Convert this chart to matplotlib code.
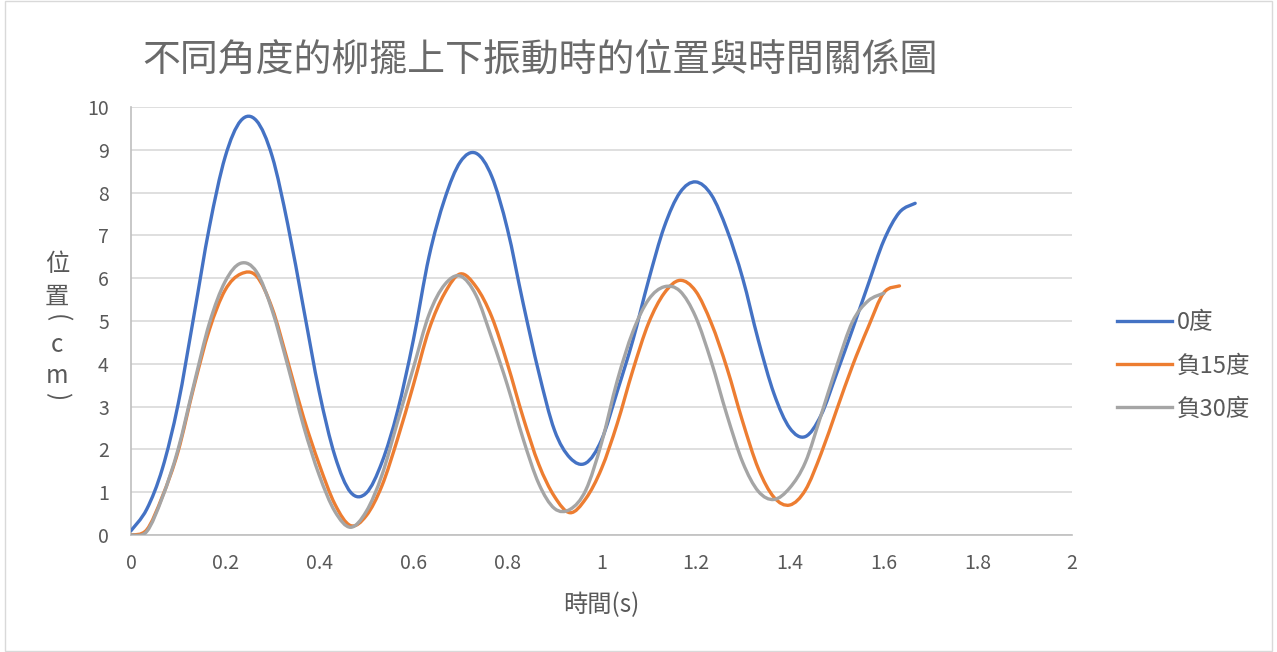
import numpy as np
import matplotlib
matplotlib.use("Agg")
import matplotlib.pyplot as plt
from matplotlib.path import Path
from matplotlib.patches import PathPatch, Rectangle
from matplotlib.lines import Line2D
from matplotlib.ticker import FuncFormatter, MultipleLocator

plt.rcParams['font.family'] = ['Noto Sans CJK TC', 'DejaVu Sans']

frame_rate = 30
series_names = ['0度', '負15度', '負30度']
pos_0 = [0.10, 0.60, 1.55, 3.05, 5.10, 7.20, 8.83, 9.68, 9.68, 8.85,
         7.25, 5.30, 3.35, 1.85, 1.00, 0.98, 1.70, 2.90, 4.55, 6.50,
         7.85, 8.72, 8.92, 8.38, 7.15, 5.42, 3.80, 2.45, 1.80, 1.68,
         2.22, 3.35, 4.55, 5.95, 7.20, 8.00, 8.25, 7.95, 7.13, 6.00,
         4.55, 3.30, 2.50, 2.30, 2.80, 3.78, 4.80, 5.85, 6.88, 7.54,
         7.75]
pos_15 = [0.00, 0.12, 0.90, 1.95, 3.45, 4.80, 5.72, 6.10, 6.05, 5.30,
          4.05, 2.75, 1.65, 0.72, 0.22, 0.45, 1.15, 2.25, 3.50, 4.80,
          5.65, 6.10, 5.80, 5.10, 4.00, 2.75, 1.65, 0.90, 0.52, 0.85,
          1.55, 2.60, 3.85, 4.95, 5.65, 5.95, 5.70, 4.95, 3.90, 2.65,
          1.55, 0.88, 0.70, 1.05, 1.90, 2.93, 3.95, 4.85, 5.66, 5.82]
pos_30 = [0.00, 0.08, 0.88, 2.00, 3.50, 4.95, 5.92, 6.35, 6.15, 5.25,
          3.95, 2.55, 1.40, 0.55, 0.18, 0.55, 1.40, 2.65, 3.90, 5.15,
          5.85, 6.05, 5.60, 4.60, 3.50, 2.25, 1.20, 0.62, 0.60, 1.05,
          2.15, 3.60, 4.75, 5.50, 5.80, 5.70, 5.10, 4.05, 2.80, 1.70,
          1.02, 0.83, 1.10, 1.70, 2.80, 3.95, 4.98, 5.47, 5.65]
colors = ['#4472C4', '#ED7D31', '#A5A5A5']

title = '不同角度的柳擺上下振動時的位置與時間關係圖'
x_label = '時間(s)'
text_color = '#595959'


def smooth_path(x, y):
    # excel-like smoothed line: bezier segments through every point
    pts = np.column_stack([x, y])
    n = len(pts)
    verts = [pts[0]]
    codes = [Path.MOVETO]
    for i in range(n - 1):
        p0 = pts[i - 1] if i > 0 else pts[i]
        p1 = pts[i]
        p2 = pts[i + 1]
        p3 = pts[i + 2] if i + 2 < n else pts[i + 1]
        verts += [p1 + (p2 - p0) / 6, p2 - (p3 - p1) / 6, p2]
        codes += [Path.CURVE4] * 3
    return Path(verts, codes)


fig = plt.figure(figsize=(12.77, 6.52), dpi=100)
ax = fig.add_axes([131 / 1277, 1 - 535 / 652, 941 / 1277, 428 / 652])

handles = []
for name, vals, c in zip(series_names, [pos_0, pos_15, pos_30], colors):
    t = np.arange(len(vals)) / frame_rate
    ax.add_patch(PathPatch(smooth_path(t, np.array(vals)), fill=False,
                           edgecolor=c, linewidth=2.4, capstyle='round',
                           joinstyle='round', zorder=3))
    handles.append(Line2D([], [], color=c, linewidth=2.4, label=name))

ax.set_xlim(0, 2)
ax.set_ylim(0, 10)
ax.xaxis.set_major_locator(MultipleLocator(0.2))
ax.yaxis.set_major_locator(MultipleLocator(1))
ax.xaxis.set_major_formatter(FuncFormatter(lambda v, p: '{:g}'.format(round(v, 1))))
ax.grid(axis='y', color='#d9d9d9', linewidth=1.2)
ax.set_axisbelow(True)
ax.tick_params(length=0, labelsize=14, colors=text_color)
ax.tick_params(axis='y', pad=16)
ax.tick_params(axis='x', pad=13)
for s in ['top', 'right']:
    ax.spines[s].set_visible(False)
for s in ['left', 'bottom']:
    ax.spines[s].set_color('#bfbfbf')
    ax.spines[s].set_linewidth(1.2)

fig.text(540 / 1277, 1 - 60 / 652, title, fontsize=27.3, color='#6a6a6a',
         ha='center', va='center', fontweight='light')
fig.text(601 / 1277, 1 - 605 / 652, x_label, fontsize=17.5, color=text_color,
         ha='center', va='center')

# vertical axis title, one glyph at a time; brackets turned on their side
for ch, yp, rot in [('位', 264, 0), ('置', 297, 0), ('(', 318, -90),
                    ('c', 345, 0), ('m', 376, 0), (')', 396, -90)]:
    fig.text(57 / 1277, 1 - yp / 652, ch, fontsize=17.5, color=text_color,
             ha='center', va='center', rotation=rot)

leg = fig.legend(handles=handles, loc='center left',
                 bbox_to_anchor=(1108 / 1277, 1 - 366 / 652),
                 frameon=False, fontsize=17, handlelength=2.3,
                 handletextpad=0.2, labelspacing=0.85, borderaxespad=0)
for txt in leg.get_texts():
    txt.set_color(text_color)

fig.add_artist(Rectangle((5 / 1277, 1 / 652), 1267 / 1277, 650 / 652,
                         transform=fig.transFigure, fill=False,
                         edgecolor='#d9d9d9', linewidth=1))

fig.savefig('out.png', dpi=100)
